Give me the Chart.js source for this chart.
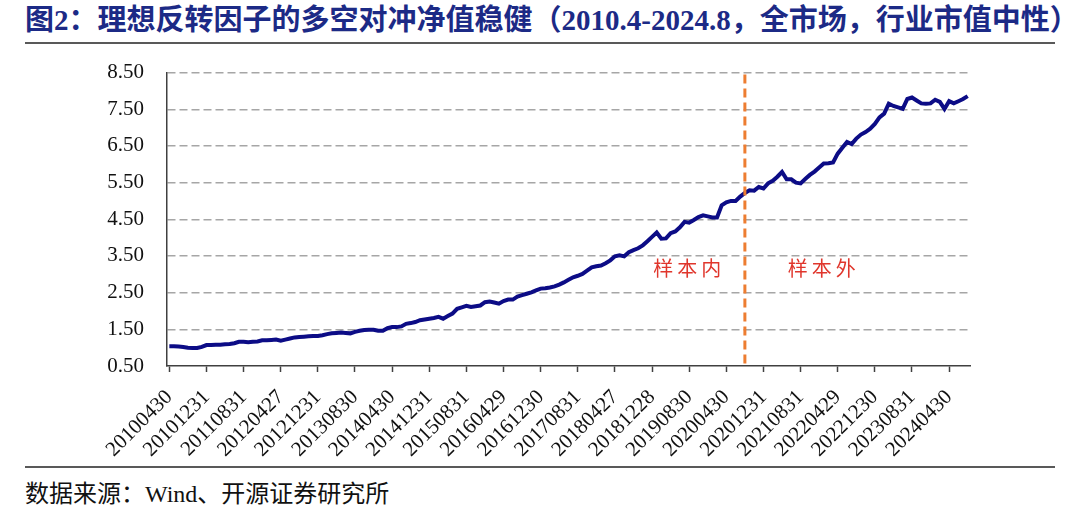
<!DOCTYPE html>
<html>
<head>
<meta charset="utf-8">
<script src="https://cdn.jsdelivr.net/npm/chart.js@4.4.1/dist/chart.umd.min.js"></script>
<style>
  html, body { margin: 0; padding: 0; background: #fff; }
  body { width: 1080px; height: 512px; position: relative; overflow: hidden; }
  #title {
    position: absolute; left: 25px; top: 3px; white-space: nowrap;
    font-family: "Liberation Serif", "Noto Sans CJK SC"; font-weight: bold;
    font-size: 29px; color: #1c2a86; line-height: 34px;
  }
  .rule { position: absolute; left: 25px; width: 1030px; height: 2px; background: #595959; }
  #source {
    position: absolute; left: 25px; top: 474px; white-space: nowrap;
    font-family: "Liberation Serif", "Noto Sans CJK SC"; font-size: 24px; color: #111;
  }
  #chartBox { position: absolute; left: 0; top: 37px; width: 1080px; height: 425px; }
</style>
</head>
<body>
<div id="title">图2：理想反转因子的多空对冲净值稳健（2010.4-2024.8，全市场，行业市值中性）</div>
<div class="rule" style="top:42px"></div>
<div id="chartBox"><canvas id="chart"></canvas></div>
<div class="rule" style="top:466px"></div>
<div id="source">数据来源：Wind、开源证券研究所</div>

<script>
// tick labels shown every 8 months on the category axis
const tickLabels = [
  '20100430', '20101231', '20110831', '20120427', '20121231', '20130830',
  '20140430', '20141231', '20150831', '20160429', '20161230', '20170831',
  '20180427', '20181228', '20190830', '20200430', '20201231', '20210831',
  '20220429', '20221230', '20230831', '20240430'
];

// long-short net value, monthly, 2010-04 .. 2024-08
const netValue = [
  1.04, 1.04, 1.03, 1.02, 1.00, 0.99, 0.99, 1.02, 1.07, 1.07,
  1.08, 1.08, 1.09, 1.10, 1.12, 1.16, 1.16, 1.15, 1.16, 1.17,
  1.20, 1.20, 1.21, 1.22, 1.19, 1.22, 1.25, 1.28, 1.29, 1.30,
  1.31, 1.32, 1.32, 1.34, 1.37, 1.39, 1.40, 1.41, 1.40, 1.39,
  1.43, 1.46, 1.48, 1.49, 1.49, 1.46, 1.46, 1.53, 1.56, 1.56,
  1.58, 1.65, 1.67, 1.70, 1.75, 1.77, 1.79, 1.81, 1.84, 1.79,
  1.86, 1.93, 2.06, 2.10, 2.14, 2.11, 2.13, 2.15, 2.24, 2.26,
  2.23, 2.20, 2.27, 2.31, 2.31, 2.39, 2.43, 2.47, 2.51, 2.56,
  2.61, 2.62, 2.64, 2.67, 2.72, 2.78, 2.85, 2.92, 2.96, 3.01,
  3.10, 3.19, 3.22, 3.24, 3.30, 3.38, 3.49, 3.52, 3.49, 3.60,
  3.66, 3.71, 3.79, 3.90, 4.02, 4.14, 3.97, 3.98, 4.12, 4.17,
  4.28, 4.43, 4.41, 4.48, 4.56, 4.61, 4.58, 4.55, 4.55, 4.88,
  4.96, 5.00, 5.00, 5.12, 5.22, 5.29, 5.28, 5.38, 5.34, 5.48,
  5.55, 5.66, 5.79, 5.59, 5.59, 5.50, 5.48, 5.60, 5.71, 5.80,
  5.91, 6.02, 6.03, 6.05, 6.29, 6.45, 6.61, 6.55, 6.70, 6.81,
  6.88, 6.97, 7.10, 7.28, 7.38, 7.65, 7.59, 7.55, 7.51, 7.78,
  7.82, 7.74, 7.66, 7.65, 7.66, 7.76, 7.70, 7.51, 7.72, 7.66,
  7.72, 7.78, 7.86
];

// month keys for the category axis
const months = [];
for (let y = 2010, m = 4; months.length < netValue.length; ) {
  months.push(`${y}${String(m).padStart(2, '0')}`);
  m++;
  if (m > 12) { m = 1; y++; }
}

const splitMonth = '202008';           // in-sample / out-of-sample boundary
const inSampleLabel = { text: '样本内', month: '201908', value: 3.15 };
const outSampleLabel = { text: '样本外', month: '202201', value: 3.15 };

// draws the orange dashed split line and the two section labels
const splitPlugin = {
  id: 'splitPlugin',
  afterDatasetsDraw(chart) {
    const { ctx, chartArea, scales: { x, y } } = chart;
    const px = x.getPixelForValue(months.indexOf(splitMonth));
    ctx.save();
    ctx.strokeStyle = '#ed7d31';
    ctx.lineWidth = 3;
    ctx.setLineDash([9, 5]);
    ctx.beginPath();
    ctx.moveTo(px, chartArea.top + 2);
    ctx.lineTo(px, chartArea.bottom);
    ctx.stroke();
    ctx.setLineDash([]);

    ctx.fillStyle = '#e0362c';
    ctx.font = '20px "Noto Sans CJK SC"';
    ctx.textAlign = 'center';
    ctx.textBaseline = 'middle';
    ctx.letterSpacing = '4px';
    [inSampleLabel, outSampleLabel].forEach(l => {
      ctx.fillText(l.text, x.getPixelForValue(months.indexOf(l.month)), y.getPixelForValue(l.value));
    });
    ctx.restore();
  }
};

new Chart(document.getElementById('chart'), {
  type: 'line',
  data: {
    labels: months,
    datasets: [{
      data: netValue,
      borderColor: '#0c0c86',
      borderWidth: 4,
      pointRadius: 0,
      tension: 0,
      fill: false
    }]
  },
  options: {
    responsive: true,
    maintainAspectRatio: false,
    animation: false,
    layout: { padding: { top: 12, right: 110, left: 0, bottom: 0 } },
    plugins: {
      legend: { display: false },
      tooltip: { enabled: false }
    },
    scales: {
      x: {
        offset: true,
        afterBuildTicks: axis => { axis.ticks = axis.ticks.filter((t, i) => i % 8 === 0); },
        afterFit: axis => { axis.height = 96; },
        grid: {
          offset: false,
          drawOnChartArea: false,
          drawTicks: true,
          tickLength: 6,
          tickColor: '#404040',
          tickWidth: 1.5
        },
        border: { color: '#404040', width: 1.5 },
        ticks: {
          autoSkip: false,
          maxRotation: 45,
          minRotation: 45,
          padding: 13,
          color: '#111',
          font: { family: '"Liberation Serif"', size: 21 },
          callback: value => tickLabels[value / 8]
        }
      },
      y: {
        min: 0.5,
        max: 8.5,
        afterFit: axis => { axis.width = 167; },
        grid: {
          drawTicks: false,
          color: ctx => ctx.tick && ctx.tick.value === 0.5 ? 'transparent' : '#a6a6a6',
          lineWidth: 1.5
        },
        border: { color: '#404040', width: 1.5, dash: [8, 4] },
        ticks: {
          stepSize: 1,
          padding: 23,
          color: '#111',
          font: { family: '"Liberation Serif"', size: 21 },
          callback: v => v.toFixed(2)
        }
      }
    }
  },
  plugins: [splitPlugin]
});
</script>
</body>
</html>
